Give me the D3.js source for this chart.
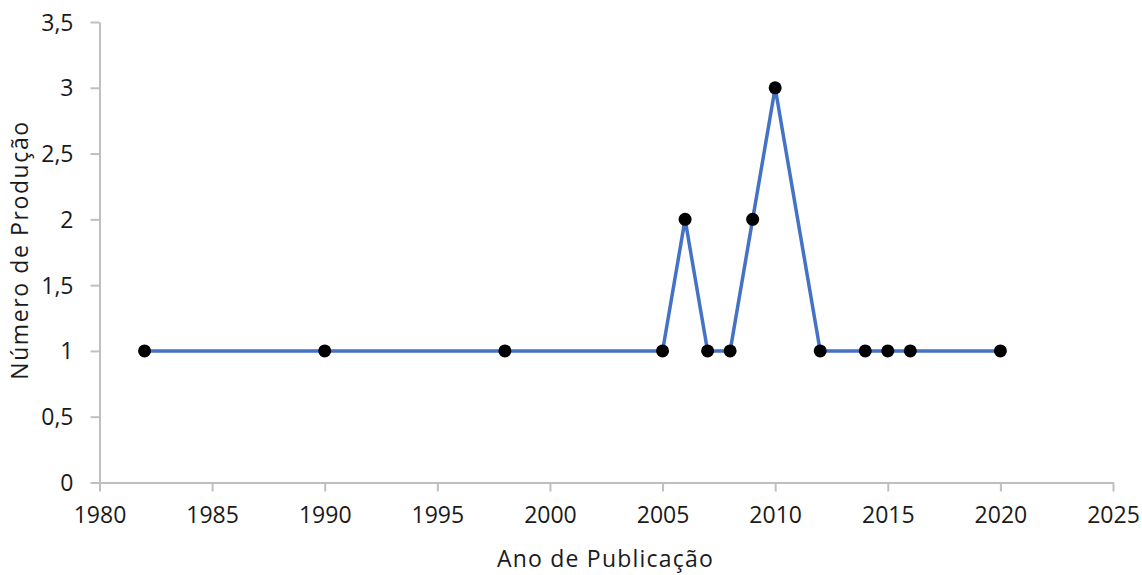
<!DOCTYPE html>
<html><head><meta charset="utf-8">
<script src="https://cdn.jsdelivr.net/npm/d3@7"></script>
<style>body{margin:0;background:#fff}svg{display:block}text{font-family:"Open Sans",sans-serif;fill:#1a1a1a}</style>
</head><body><svg id="c" width="1142" height="575"></svg>
<script>
const years = [1982,1990,1998,2005,2006,2007,2008,2009,2010,2012,2014,2015,2016,2020];
const values = [1,1,1,1,2,1,1,2,3,1,1,1,1,1];
const xTicks = [1980,1985,1990,1995,2000,2005,2010,2015,2020,2025];
const yTicks = [0,0.5,1,1.5,2,2.5,3,3.5];
const xTitle = "Ano de Publicação";
const yTitle = "Número de Produção";

const svg = d3.select("#c");
const x = d3.scaleLinear().domain([1980,2025]).range([99.5,1113]);
const y = d3.scaleLinear().domain([0,3.5]).range([482.5,22]);
const fmt = d => String(d).replace(".", ",");
const fs = 23;

const gx = svg.append("g").attr("transform",`translate(0,${y(0)})`)
  .call(d3.axisBottom(x).tickValues(xTicks).tickFormat(d=>d).tickSize(9).tickSizeOuter(0).tickPadding(15));
const gy = svg.append("g").attr("transform",`translate(${x(1980)},0)`)
  .call(d3.axisLeft(y).tickValues(yTicks).tickFormat(fmt).tickSize(9).tickSizeOuter(0).tickPadding(17));
[gx,gy].forEach(g=>{
  g.selectAll("path,line").attr("stroke","#BFBFBF").attr("stroke-width",2);
  g.selectAll("text").style("font-size",fs+"px").attr("fill","#1a1a1a").style("font-family","'Open Sans',sans-serif");
});
gy.selectAll("text").attr("dy","0.35em");

svg.append("path").datum(years.map((d,i)=>[d,values[i]]))
  .attr("fill","none").attr("stroke","#4472C4").attr("stroke-width",3.5)
  .attr("d", d3.line().x(d=>x(d[0])).y(d=>y(d[1])));
svg.selectAll("circle.m").data(years.map((d,i)=>[d,values[i]])).join("circle")
  .attr("class","m").attr("cx",d=>x(d[0])).attr("cy",d=>y(d[1])).attr("r",6.5).attr("fill","#000");

svg.append("text").attr("x",605.5).attr("y",567).attr("text-anchor","middle")
  .style("font-size",fs+"px").style("letter-spacing","1.2px").text(xTitle);
svg.append("text").attr("transform",`translate(28,${250}) rotate(-90)`).attr("text-anchor","middle")
  .style("font-size",fs+"px").style("letter-spacing","1.6px").text(yTitle);
</script></body></html>
